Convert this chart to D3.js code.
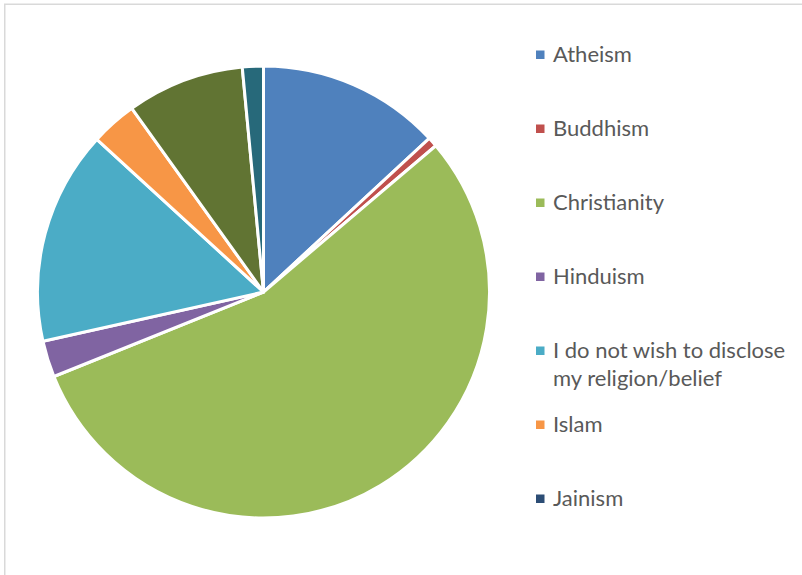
<!DOCTYPE html>
<html>
<head>
<meta charset="utf-8">
<script src="https://cdn.jsdelivr.net/npm/d3@7"></script>
<style>
  html, body { margin: 0; padding: 0; background: #ffffff; }
  svg { display: block; }
</style>
</head>
<body>
<svg id="chart" width="802" height="575"></svg>
<script>
// Data (percent shares), clockwise from 12 o'clock
const categories = [
  "Atheism",
  "Buddhism",
  "Christianity",
  "Hinduism",
  "I do not wish to disclose my religion/belief",
  "Islam",
  "Jainism",
  "No religion",
  "Other"
];
const values = [13.1, 0.7, 55.1, 2.6, 15.3, 3.3, 0, 8.4, 1.5];
const colors = ["#4F81BD", "#C0504D", "#9BBB59", "#8064A2", "#4BACC6", "#F79646", "#2C4D75", "#617433", "#27697A"];
const legendLines = [
  ["Atheism"],
  ["Buddhism"],
  ["Christianity"],
  ["Hinduism"],
  ["I do not wish to disclose", "my religion/belief"],
  ["Islam"],
  ["Jainism"]
];

const svg = d3.select("#chart");

// chart-area border (clipped on right/bottom like the reference)
svg.append("rect")
  .attr("x", 4.75).attr("y", 4.25)
  .attr("width", 900).attr("height", 700)
  .attr("fill", "#ffffff")
  .attr("stroke", "#D9D9D9")
  .attr("stroke-width", 1.5);

const data = categories.map((c, i) => ({ name: c, value: values[i], color: colors[i] }));

const cx = 263.5, cy = 292, r = 226;
const pie = d3.pie().sort(null).value(d => d.value);
const arc = d3.arc().innerRadius(0).outerRadius(r);

const g = svg.append("g").attr("transform", `translate(${cx},${cy})`);
g.selectAll("path")
  .data(pie(data).filter(d => d.data.value > 0))
  .join("path")
  .attr("d", arc)
  .attr("fill", d => d.data.color)
  .attr("stroke", "#ffffff")
  .attr("stroke-width", 3)
  .attr("stroke-linejoin", "round");

// Legend
const ly = d3.scaleLinear().domain([0, 1]).range([54, 128]);
const legend = svg.append("g");
const items = legend.selectAll("g.item")
  .data(legendLines.map((lines, i) => ({ lines, color: colors[i], i })))
  .join("g")
  .attr("class", "item")
  .attr("transform", d => `translate(0,${ly(d.i)})`);

items.append("rect")
  .attr("x", 536).attr("y", -3.5)
  .attr("width", 8.5).attr("height", 8.5)
  .attr("fill", d => d.color);

items.append("text")
  .attr("x", 553)
  .attr("y", 8)
  .attr("font-family", "Lato, 'Open Sans', sans-serif")
  .attr("font-size", 22)
  .attr("fill", "#595959")
  .selectAll("tspan")
  .data(d => d.lines)
  .join("tspan")
  .attr("x", 553)
  .attr("dy", (d, k) => k === 0 ? 0 : 28)
  .text(d => d);
</script>
</body>
</html>
